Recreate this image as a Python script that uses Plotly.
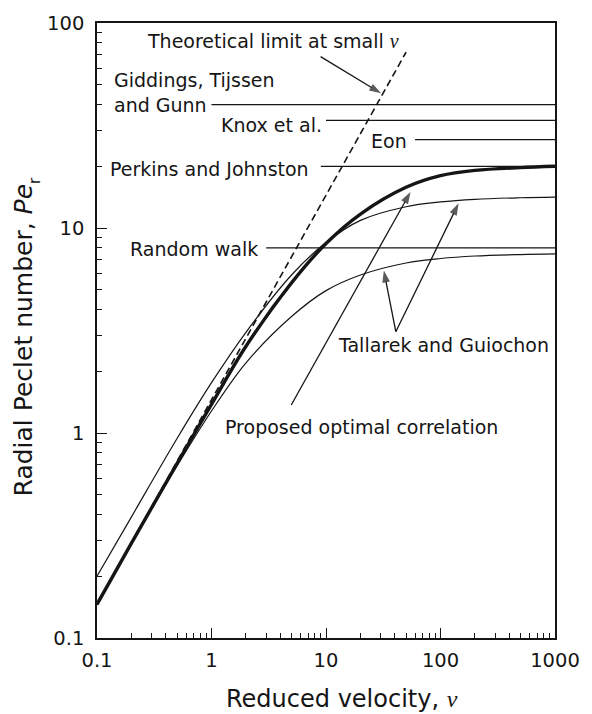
import plotly.graph_objects as go

# Reduced velocity grid and radial Peclet numbers for each correlation
velocity = [0.1, 0.2, 0.5, 1, 2, 5, 10, 20, 50, 100, 200, 500, 1000]
pe_proposed = [0.146, 0.29, 0.71, 1.38, 2.65, 5.4, 8.4, 11.7, 15.8, 18.0, 19.1, 19.7, 20.0]
pe_tallarek_high = [0.2, 0.39, 0.94, 1.76, 3.1, 5.9, 8.5, 10.9, 12.7, 13.4, 13.8, 14.05, 14.15]
pe_tallarek_low = [0.145, 0.288, 0.69, 1.28, 2.2, 3.7, 4.95, 5.9, 6.75, 7.1, 7.3, 7.42, 7.47]

# Small-velocity theoretical limit (straight line on log-log axes)
limit_v = [0.1, 50]
limit_pe = [0.146, 72]

# Asymptotic high-velocity values quoted in the literature
asym_names = ["Giddings, Tijssen and Gunn", "Knox et al.", "Eon", "Perkins and Johnston", "Random walk"]
asym_pe = [40, 33.5, 27, 20, 8]
asym_start_v = [1, 10, 60, 9, 3]
v_max = 1000

# Pointer arrows: tail (v, Pe) -> head (v, Pe)
arrow_tail_v = [8.97, 4.97, 40.7, 40.7]
arrow_tail_pe = [68.5, 1.37, 3.12, 3.12]
arrow_head_v = [30.3, 54.7, 143.9, 32.0]
arrow_head_pe = [45.4, 15.0, 13.2, 6.2]

# Axis ticks
x_tick_vals = [0.1, 1, 10, 100, 1000]
x_tick_text = ["0.1", "1", "10", "100", "1000"]
y_tick_vals = [0.1, 1, 10, 100]
y_tick_text = ["0.1", "1", "10", "100"]

INK = "#151515"
FONT = "DejaVu Sans"


def nu(size):
    return ("<span style='font-family:Liberation Serif;font-size:%dpx'><i>ν</i></span>" % size)


fig = go.Figure()

for name, pe, v0 in zip(asym_names, asym_pe, asym_start_v):
    fig.add_trace(go.Scatter(x=[v0, v_max], y=[pe, pe], mode="lines",
                             line=dict(color=INK, width=1.2), name=name))

fig.add_trace(go.Scatter(x=limit_v, y=limit_pe, mode="lines",
                         line=dict(color=INK, width=1.6, dash="7px,4px"),
                         name="Theoretical limit"))
fig.add_trace(go.Scatter(x=velocity, y=pe_tallarek_high, mode="lines",
                         line=dict(color=INK, width=1.2, shape="spline", smoothing=1.0),
                         name="Tallarek and Guiochon (1)"))
fig.add_trace(go.Scatter(x=velocity, y=pe_tallarek_low, mode="lines",
                         line=dict(color=INK, width=1.2, shape="spline", smoothing=1.0),
                         name="Tallarek and Guiochon (2)"))
fig.add_trace(go.Scatter(x=velocity, y=pe_proposed, mode="lines",
                         line=dict(color=INK, width=3.4, shape="spline", smoothing=1.0),
                         name="Proposed optimal correlation"))

# Arrows drawn as a line with an oriented arrow-head marker at its end
for tv, tp, hv, hp in zip(arrow_tail_v, arrow_tail_pe, arrow_head_v, arrow_head_pe):
    fig.add_trace(go.Scatter(x=[tv, hv], y=[tp, hp], mode="lines+markers",
                             line=dict(color=INK, width=1.3),
                             marker=dict(symbol="arrow", size=[0, 12.5], angleref="previous",
                                         color=INK, line=dict(width=0)),
                             hoverinfo="skip", showlegend=False))

L, R, T, B = 97, 28, 23, 76
W, H = 592, 714
pw, ph = W - L - R, H - T - B


def paper(xp, yp):
    return (xp - L) / pw, (T + ph - yp) / ph


annotations = []
labels = [
    ("Theoretical limit at small " + nu(20), 146, 40),
    ("Giddings, Tijssen", 112, 78),
    ("and Gunn", 112, 103.5),
    ("Knox et al.", 221, 124),
    ("Eon", 374, 139.5),
    ("Perkins and Johnston", 108.5, 167),
    ("Random walk", 129, 247.5),
    ("Tallarek and Guiochon", 341, 343.5),
    ("Proposed optimal correlation", 225.5, 425),
]
for text, xp, yp in labels:
    xx, yy = paper(xp, yp + 1.5)
    annotations.append(dict(text=text, x=xx, y=yy, xref="paper", yref="paper",
                            xanchor="left", yanchor="middle", showarrow=False,
                            font=dict(family=FONT, size=19, color=INK)))

# Axis titles
xx, yy = paper(347, 698.5)
annotations.append(dict(text="Reduced velocity, " + nu(24),
                        x=xx, y=yy, xref="paper", yref="paper", xanchor="center",
                        yanchor="middle", showarrow=False,
                        font=dict(family=FONT, size=24, color=INK)))
# rotated y title; the subscript "r" of Pe is set as its own small label
xx, yy = paper(23, 340)
annotations.append(dict(text="Radial Peclet number, <i>Pe</i>",
                        x=xx, y=yy, xref="paper", yref="paper", xanchor="center",
                        yanchor="middle", textangle=-90, showarrow=False,
                        font=dict(family=FONT, size=25, color=INK)))
xx, yy = paper(33, 181)
annotations.append(dict(text="r", x=xx, y=yy, xref="paper", yref="paper",
                        xanchor="center", yanchor="middle", textangle=-90,
                        showarrow=False, font=dict(family=FONT, size=16, color=INK)))

minor_vals_x = [m * 10 ** e for e in range(-1, 3) for m in range(2, 10)]
minor_vals_y = [m * 10 ** e for e in range(-1, 2) for m in range(2, 10)]

axis_common = dict(type="log", showgrid=False, zeroline=False, showline=True,
                   linecolor=INK, linewidth=1.5, mirror=True, ticks="inside",
                   ticklen=10, tickwidth=1.2, tickcolor=INK,
                   tickfont=dict(family=FONT, size=19.5, color=INK))

fig.update_xaxes(range=[-1, 3], tickmode="array", tickvals=x_tick_vals, ticktext=x_tick_text,
                 ticklabelstandoff=4,
                 minor=dict(tickmode="array", tickvals=minor_vals_x, ticks="inside",
                            ticklen=5, tickwidth=1.2, tickcolor=INK, showgrid=False),
                 **axis_common)
fig.update_yaxes(range=[-1, 2], tickmode="array", tickvals=y_tick_vals, ticktext=y_tick_text,
                 ticklabelstandoff=7,
                 minor=dict(tickmode="array", tickvals=minor_vals_y, ticks="inside",
                            ticklen=5, tickwidth=1.2, tickcolor=INK, showgrid=False),
                 **axis_common)

fig.update_layout(width=W, height=H, autosize=False,
                  margin=dict(l=L, r=R, t=T, b=B, pad=0),
                  paper_bgcolor="white", plot_bgcolor="white",
                  showlegend=False, annotations=annotations,
                  font=dict(family=FONT, color=INK))

fig.write_html("out.html")
